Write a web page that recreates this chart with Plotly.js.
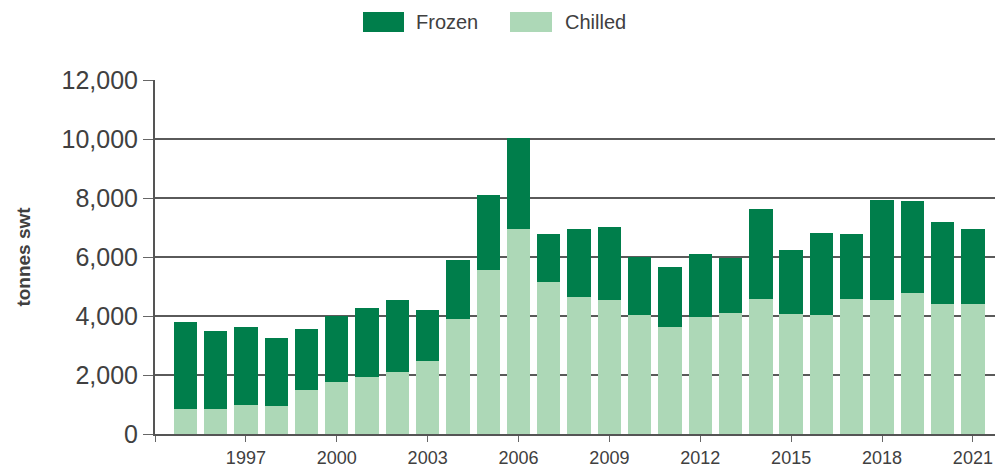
<!DOCTYPE html>
<html>
<head>
<meta charset="utf-8">
<script src="https://cdn.plot.ly/plotly-3.0.1.min.js"></script>
<style>html,body{margin:0;padding:0;background:#fff;}#chart{width:997px;height:469px;}</style>
</head>
<body>
<div id="chart"></div>
<script>
const years = [1995,1996,1997,1998,1999,2000,2001,2002,2003,2004,2005,2006,2007,2008,2009,2010,2011,2012,2013,2014,2015,2016,2017,2018,2019,2020,2021];
const chilled = [850,840,980,960,1500,1750,1920,2110,2490,3900,5550,6960,5140,4640,4550,4020,3640,3970,4090,4590,4070,4050,4580,4530,4780,4400,4400];
const totals = [3810,3480,3630,3240,3550,4000,4260,4530,4200,5910,8100,10030,6780,6950,7020,5990,5670,6090,5970,7630,6240,6800,6780,7940,7890,7180,6950];
const frozen = totals.map((t,i)=>t-chilled[i]);
const xTickVals = [1994,1997,2000,2003,2006,2009,2012,2015,2018,2021];
const xTickText = ["","1997","2000","2003","2006","2009","2012","2015","2018","2021"];
const yTickVals = [0,2000,4000,6000,8000,10000,12000];
const yTickText = ["0","2,000","4,000","6,000","8,000","10,000","12,000"];

const cFrozen = "#007E4B", cChilled = "#ADD8B7";
const font = "Liberation Sans, Arial, sans-serif";

const data = [
  {type:"bar", name:"Chilled", x:years, y:chilled, width:0.77, marker:{color:cChilled}, showlegend:false},
  {type:"bar", name:"Frozen", x:years, y:frozen, width:0.77, marker:{color:cFrozen}, showlegend:false}
];

const layout = {
  width:997, height:469,
  margin:{l:155, r:2, t:80, b:35},
  barmode:"stack",
  paper_bgcolor:"#fff", plot_bgcolor:"#fff",
  font:{family:font, color:"#404040"},
  xaxis:{range:[1994,2021.73], tickvals:xTickVals, ticktext:xTickText, ticks:"outside", ticklen:6, tickcolor:"#666", tickwidth:1,
    showline:true, linecolor:"#555", linewidth:2, showgrid:false, zeroline:false, tickfont:{size:18, color:"#404040"}, ticklabelstandoff:0},
  yaxis:{range:[0,12000], tickvals:yTickVals, ticktext:yTickText, ticks:"outside", ticklen:10, tickcolor:"#666", tickwidth:1,
    showline:true, linecolor:"#555", linewidth:2, showgrid:true, gridcolor:"#5a5a5a", gridwidth:2.5, zeroline:false,
    tickfont:{size:25, color:"#404040"}, title:{text:"<b>tonnes swt</b>", font:{size:19, color:"#404040"}, standoff:26}},
  shapes:[
    {type:"rect", xref:"paper", yref:"paper", x0:(363-155)/840, x1:(404-155)/840, y0:(469-35-32)/354, y1:(469-35-12)/354, fillcolor:cFrozen, line:{width:0}},
    {type:"rect", xref:"paper", yref:"paper", x0:(510-155)/840, x1:(552-155)/840, y0:(469-35-32)/354, y1:(469-35-12)/354, fillcolor:cChilled, line:{width:0}}
  ],
  annotations:[
    {xref:"paper", yref:"paper", x:(414-155)/840, y:(469-35-22)/354, xanchor:"left", yanchor:"middle", text:"Frozen", showarrow:false, font:{size:20, color:"#404040"}},
    {xref:"paper", yref:"paper", x:(563-155)/840, y:(469-35-22)/354, xanchor:"left", yanchor:"middle", text:"Chilled", showarrow:false, font:{size:20, color:"#404040"}}
  ]
};
Plotly.newPlot("chart", data, layout, {displayModeBar:false, staticPlot:true});
</script>
</body>
</html>
